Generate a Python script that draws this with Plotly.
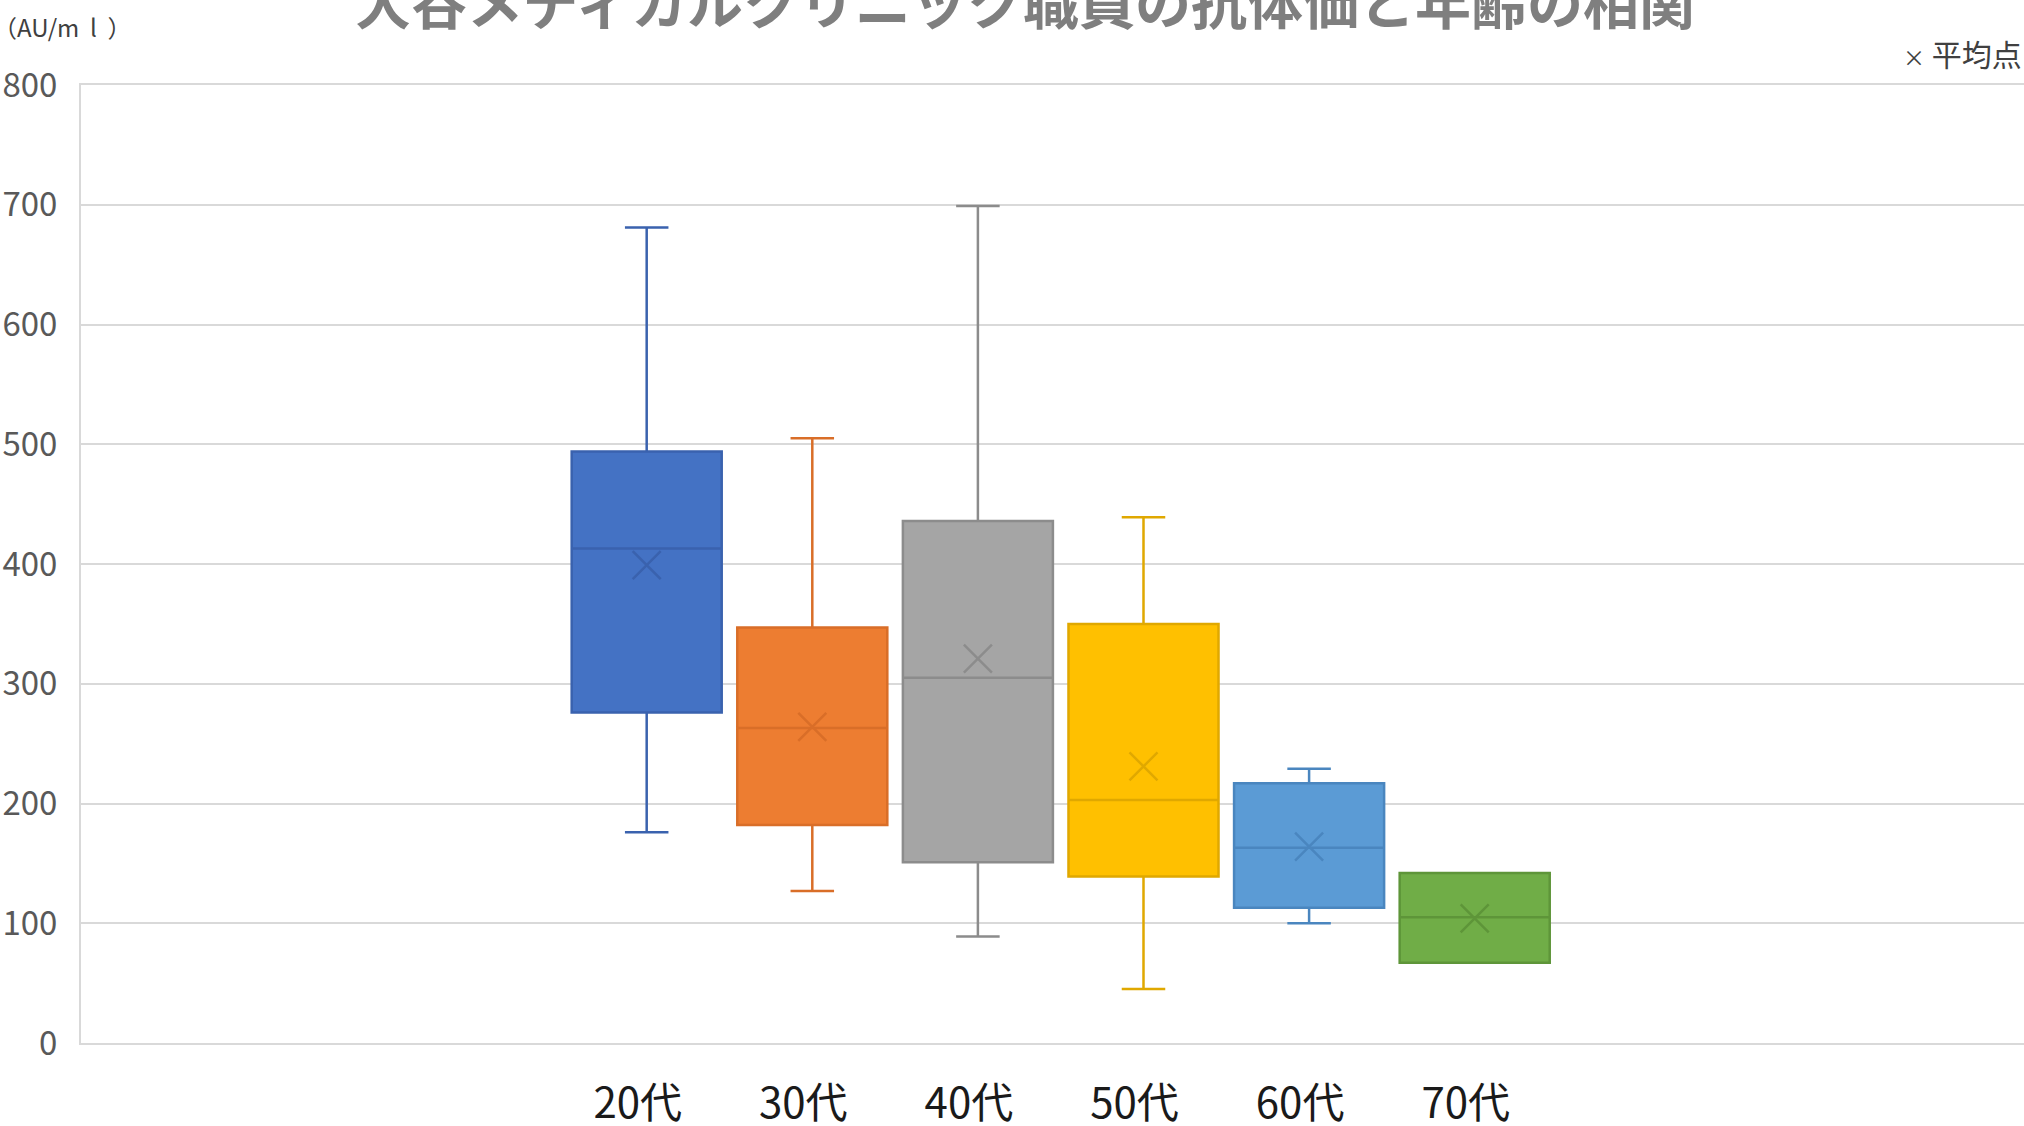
import plotly.graph_objects as go

# ---- data ----
ages = ["20代", "30代", "40代", "50代", "60代", "70代"]
upper = [681, 505, 699, 439, 229, 142]
q3 = [494, 347, 436, 350, 217, 142]
median = [413, 263, 305, 203, 163, 105]
mean = [399, 264, 321, 231, 164, 104]
q1 = [276, 182, 151, 139, 113, 67]
lower = [176, 127, 89, 45, 100, 67]
y_ticks = [0, 100, 200, 300, 400, 500, 600, 700, 800]

fills = ["#4472C4", "#ED7D31", "#A5A5A5", "#FFC000", "#5B9BD5", "#70AD47"]
lines = ["#3A62AE", "#D96E28", "#8C8C8C", "#E0A800", "#4A86BF", "#5E9539"]

title_text = "大谷メディカルクリニック職員の抗体価と年齢の相関"
unit_text = "（AU/m\u00a0\u00a0l\u00a0\u00a0）"
legend_text = "<span style='font-size:22px'>×</span> 平均点"

FONT = "Noto Sans CJK JP"

fig = go.Figure()
for i, a in enumerate(ages):
    fig.add_trace(go.Box(
        x=[a], q1=[q1[i]], median=[median[i]], q3=[q3[i]],
        lowerfence=[lower[i]], upperfence=[upper[i]],
        width=0.906, whiskerwidth=0.29,
        fillcolor=fills[i],
        line=dict(color=lines[i], width=2.5),
        boxpoints=False, showlegend=False, hoverinfo="skip",
    ))
    fig.add_trace(go.Scatter(
        x=[a], y=[mean[i]], mode="markers",
        marker=dict(symbol="x-thin", size=28,
                    line=dict(color=lines[i], width=2.5)),
        showlegend=False, hoverinfo="skip",
    ))

W, H = 2024, 1126
L, R, T, B = 81, 0, 85, 83
ph = H - T - B

fig.update_layout(
    width=W, height=H,
    margin=dict(l=L, r=R, t=T, b=B, pad=0, autoexpand=False),
    paper_bgcolor="white", plot_bgcolor="white",
    boxmode="overlay",
    font=dict(family=FONT),
    xaxis=dict(
        type="category", categoryorder="array", categoryarray=ages,
        range=[-3.416, 8.317], showgrid=False, zeroline=False,
        showline=True, mirror=True, linecolor="#D9D9D9", linewidth=2,
        ticks="", ticklabelstandoff=23, ticklabelshift=-9, automargin=False,
        tickfont=dict(size=42, color="#1a1a1a", family=FONT),
    ),
    yaxis=dict(
        range=[0, 800], tickvals=y_ticks,
        showgrid=True, gridcolor="#D9D9D9", gridwidth=2,
        zeroline=False, showline=True, linecolor="#D9D9D9", linewidth=2,
        ticks="", ticklabelstandoff=15, automargin=False,
        tickfont=dict(size=33, color="#595959", family=FONT),
    ),
    annotations=[
        dict(text=title_text, xref="paper", yref="paper",
             x=(1025 - L) / (W - L), y=1 + (T + 1) / ph,
             xanchor="center", yanchor="middle", showarrow=False,
             font=dict(size=56, color="#7F7F7F", family=FONT, weight="bold")),
        dict(text=unit_text, xref="paper", yref="paper",
             x=(-9 - L) / (W - L), y=1 + (T - 26) / ph,
             xanchor="left", yanchor="middle", showarrow=False,
             font=dict(size=24, color="#404040", family=FONT)),
        dict(text=legend_text, xref="paper", yref="paper",
             x=(2024 - L) / (W - L), y=1 + (T - 53) / ph,
             xanchor="right", yanchor="middle", showarrow=False,
             font=dict(size=30, color="#404040", family=FONT)),
    ],
)

fig.write_html("out.html", config={"displayModeBar": False},
               post_script="document.body.style.margin='0';document.body.style.overflow='hidden';")
